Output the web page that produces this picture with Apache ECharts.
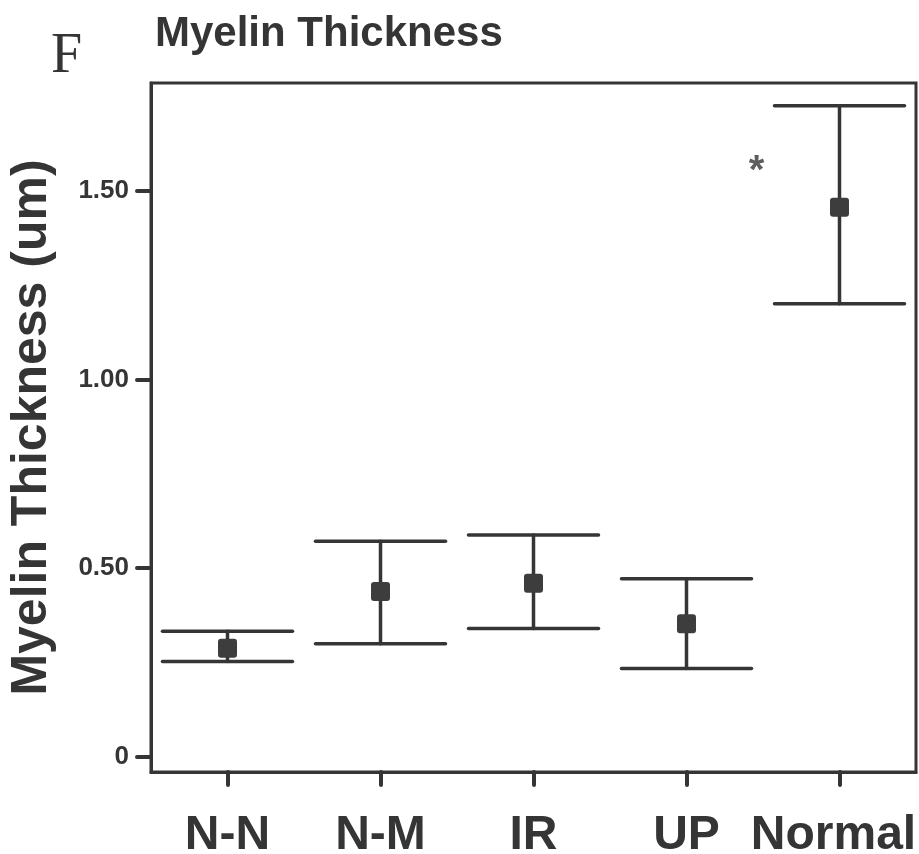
<!DOCTYPE html>
<html>
<head>
<meta charset="utf-8">
<script src="https://cdn.jsdelivr.net/npm/echarts@6/dist/echarts.min.js"></script>
<style>
  html, body { margin: 0; padding: 0; background: #fff; }
  #chart { width: 919px; height: 854px; }
</style>
</head>
<body>
<div id="chart"></div>
<script>
// Myelin thickness per group: mean with lower / upper error limits (um)
const categories = ['N-N', 'N-M', 'IR', 'UP', 'Normal'];
const means      = [0.288, 0.438, 0.460, 0.353, 1.456];
const lowerLimit = [0.253, 0.300, 0.340, 0.234, 1.200];
const upperLimit = [0.333, 0.571, 0.588, 0.472, 1.725];
const yTicks     = [0, 0.5, 1.0, 1.5];
const yTickText  = ['0', '0.50', '1.00', '1.50'];
// significance mark next to the Normal group
const starGroup  = 'Normal';
const starValue  = 1.58;

const ink = '#353535';
const fontSans = '"Liberation Sans", Arial, Helvetica, sans-serif';
const catFont = { fontFamily: fontSans, fontSize: 48, fontWeight: 'bold', color: ink };

const errorData = categories.map((c, i) => [i, lowerLimit[i], upperLimit[i], means[i]]);

const chart = echarts.init(document.getElementById('chart'), null, { renderer: 'canvas' });

chart.setOption({
  backgroundColor: '#ffffff',
  animation: false,
  title: [
    {
      text: 'F', left: 46, top: 24,
      textStyle: { fontFamily: '"Liberation Serif", "Times New Roman", serif', fontSize: 56, fontWeight: 'normal', color: ink, lineHeight: 56 }
    },
    {
      text: 'Myelin Thickness', left: 150, top: 8,
      textStyle: { fontFamily: fontSans, fontSize: 42, fontWeight: 'bold', color: ink, lineHeight: 42 }
    }
  ],
  grid: {
    left: 151, right: 3, top: 83, bottom: 82,
    outerBoundsMode: 'none',
    containLabel: false,
    show: true, borderColor: ink, borderWidth: 3, backgroundColor: 'transparent'
  },
  xAxis: {
    type: 'category',
    data: categories,
    boundaryGap: true,
    axisLine: { show: true, onZero: false, lineStyle: { color: ink, width: 3 } },
    axisTick: { show: true, alignWithLabel: true, length: 13, lineStyle: { color: ink, width: 4, cap: 'round' } },
    axisLabel: {
      interval: 0, hideOverlap: false, margin: 40,
      ...catFont,
      // the last label is nudged left so it stays inside the canvas
      formatter: (v, i) => i === categories.length - 1 ? '{last|' + v + '}' : v,
      rich: { last: { ...catFont, padding: [0, 12, 0, 0] } }
    },
    splitLine: { show: false }
  },
  yAxis: {
    type: 'value',
    min: -0.04,
    max: 1.785,
    name: 'Myelin Thickness (um)',
    nameLocation: 'middle',
    nameGap: 94,
    nameTextStyle: { fontFamily: fontSans, fontSize: 50, fontWeight: 'bold', color: ink },
    axisLine: { show: true, lineStyle: { color: ink, width: 3 } },
    axisTick: { show: true, customValues: yTicks, length: 14, lineStyle: { color: ink, width: 4, cap: 'round' } },
    axisLabel: {
      customValues: yTicks,
      margin: 22,
      fontFamily: fontSans, fontSize: 26, fontWeight: 'bold', color: ink,
      formatter: v => yTickText[yTicks.findIndex(t => Math.abs(t - v) < 1e-9)]
    },
    splitLine: { show: false }
  },
  series: [
    {
      type: 'custom',
      data: errorData,
      encode: { x: 0, y: [1, 2, 3] },
      renderItem: function (params, api) {
        const x = api.value(0);
        const lo = api.coord([x, api.value(1)]);
        const hi = api.coord([x, api.value(2)]);
        const mid = api.coord([x, api.value(3)]);
        const half = api.size([1, 0])[0] * 0.425;
        const line = { stroke: ink, lineWidth: 3.5, lineCap: 'round' };
        const m = 9.5;
        return {
          type: 'group',
          children: [
            { type: 'line', shape: { x1: hi[0], y1: hi[1], x2: lo[0], y2: lo[1] }, style: line },
            { type: 'line', shape: { x1: hi[0] - half, y1: hi[1], x2: hi[0] + half, y2: hi[1] }, style: line },
            { type: 'line', shape: { x1: lo[0] - half, y1: lo[1], x2: lo[0] + half, y2: lo[1] }, style: line },
            { type: 'rect', shape: { x: mid[0] - m, y: mid[1] - m, width: 2 * m, height: 2 * m, r: 3 }, style: { fill: '#3d3d3d' } }
          ]
        };
      },
      z: 3
    },
    {
      type: 'scatter',
      data: [[categories.indexOf(starGroup), starValue]],
      symbolSize: 0,
      label: {
        show: true,
        formatter: '*',
        offset: [-83, 12],
        fontFamily: fontSans, fontSize: 40, fontWeight: 'bold', color: ink
      },
      z: 4
    }
  ]
});
</script>
</body>
</html>
